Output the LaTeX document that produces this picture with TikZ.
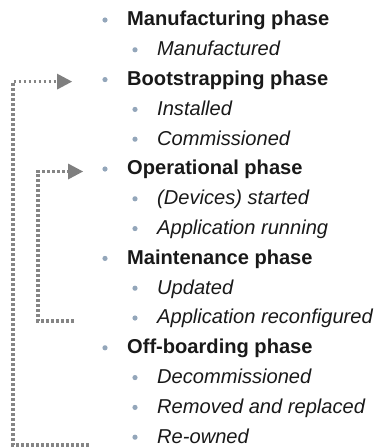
\documentclass[tikz,border=0pt]{standalone}
\usepackage{fontspec}
\setmainfont{Liberation Sans}
\usetikzlibrary{arrows.meta}
\definecolor{bulletc}{HTML}{93A6BA}
\definecolor{loopc}{HTML}{858585}
\definecolor{arrowc}{HTML}{7F7F7F}
\tikzset{
  phase/.style={anchor=base west, inner sep=0pt, font=\fontsize{20.1}{23}\selectfont\bfseries, text=black!90},
  state/.style={anchor=base west, inner sep=0pt, font=\fontsize{20.1}{23}\selectfont\itshape, text=black!90},
  dotline/.style={draw=loopc, line width=3.1pt, dash pattern=on 2.8pt off 2.2pt}
}
\newcommand{\bul}[2]{\fill[bulletc] (#1,#2) circle (2.6pt);}
\begin{document}
\begin{tikzpicture}[x=1pt,y=-1pt]
\useasboundingbox (0,0) rectangle (376,448);
% level 1 items
\foreach \k/\txt/\nm in {0/Manufacturing phase/p1, 2/Bootstrapping phase/p2, 5/Operational phase/p3, 8/Maintenance phase/p4, 11/Off-boarding phase/p5}{
  \pgfmathsetmacro{\yy}{20+\k*29.8}
  \bul{105}{\yy}
  \node[phase] (\nm) at (127,\yy+5.8) {\txt};
}
\foreach \k/\txt/\nm in {1/Manufactured/s1, 3/Installed/s2, 4/Commissioned/s3, 6/(Devices) started/s4, 7/Application running/s5, 9/Updated/s6, 10/Application reconfigured/s7, 12/Decommissioned/s8, 13/Removed and replaced/s9, 14/Re-owned/s10}{
  \pgfmathsetmacro{\yy}{20+\k*29.8}
  \bul{135}{\yy}
  \node[state] (\nm) at (157,\yy+5.8) {\txt};
}
% loops
\coordinate (oS) at (89,445);
\coordinate (oC1) at (13,445);
\coordinate (oC2) at (13,81.6);
\coordinate (oE) at (72,81.6);
\draw[dotline] (oS) -- (oC1) -- (oC2) -- (57,81.6);
\fill[arrowc] (57,73.6) -- (oE) -- (57,89.6) -- cycle;
\coordinate (iS) at (74,321);
\coordinate (iC1) at (38,321);
\coordinate (iC2) at (38,171.5);
\coordinate (iE) at (83,171.5);
\draw[dotline] (iS) -- (iC1) -- (iC2) -- (68,171.5);
\fill[arrowc] (68,163.5) -- (iE) -- (68,179.5) -- cycle;
\end{tikzpicture}
\end{document}
